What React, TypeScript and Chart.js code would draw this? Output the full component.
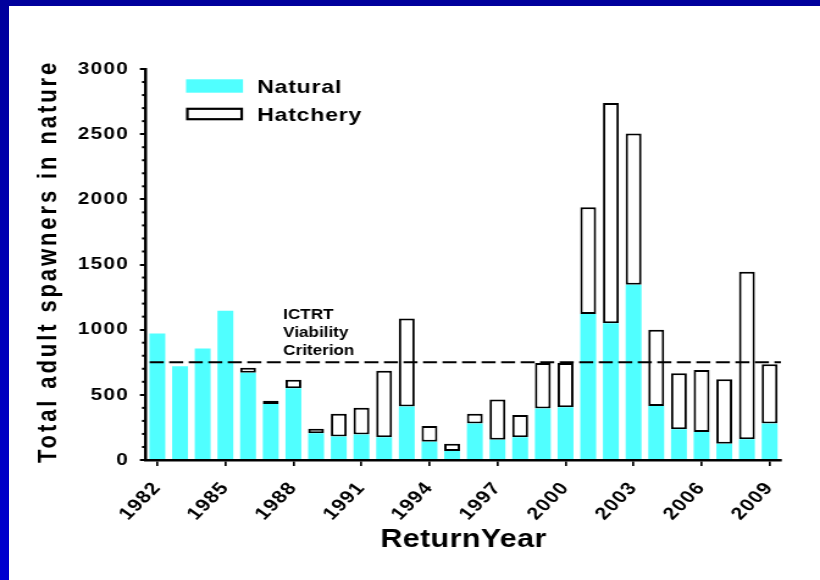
import React, { useEffect, useRef } from 'react';
import { Chart, registerables } from 'chart.js';

Chart.register(...registerables);

const YEARS = [
  '1982', '1983', '1984', '1985', '1986', '1987', '1988', '1989', '1990', '1991',
  '1992', '1993', '1994', '1995', '1996', '1997', '1998', '1999', '2000', '2001',
  '2002', '2003', '2004', '2005', '2006', '2007', '2008', '2009',
];
const NATURAL = [
  970, 720, 855, 1145, 670, 430, 550, 205, 180, 195,
  175, 410, 140, 70, 280, 155, 175, 395, 405, 1120,
  1050, 1345, 415, 235, 215, 125, 160, 280,
];
const HATCHERY = [
  null, null, null, null, 37, 25, 65, 35, 175, 205,
  510, 675, 120, 55, 75, 310, 170, 350, 340, 820,
  1690, 1160, 585, 430, 475, 495, 1285, 455,
];
const SERIES_NAMES = ['Natural', 'Hatchery'];
const Y_MIN = 0;
const Y_MAX = 3000;
const Y_MAJOR_STEP = 500;
const Y_MINOR_STEP = 100;
const X_LABEL_EVERY = 3;
const CRITERION = 750;
const CRITERION_TEXT = ['ICTRT', 'Viability', 'Criterion'];
const X_TITLE = 'ReturnYear';
const Y_TITLE = 'Total adult spawners in nature';

const FONT = '"Liberation Sans", Arial, Helvetica, sans-serif';
const NATURAL_COLOR = '#50FFFF';

const decorPlugin = {
  id: 'decor',
  beforeDraw(chart: any) {
    (chart.ctx as any).letterSpacing = '1px';
  },
  afterDatasetsDraw(chart: any) {
    const { ctx, chartArea } = chart;
    const y = chart.scales.y.getPixelForValue(CRITERION);
    ctx.save();
    ctx.strokeStyle = '#000';
    ctx.lineWidth = 2.2;
    ctx.setLineDash([11.5, 4.5]);
    ctx.beginPath();
    ctx.moveTo(chartArea.left + 3, y);
    ctx.lineTo(chartArea.right, y);
    ctx.stroke();
    ctx.restore();
  },
  afterDraw(chart: any) {
    const { ctx, chartArea } = chart;
    const ys = chart.scales.y;
    const xs = chart.scales.x;
    ctx.save();
    // minor ticks
    ctx.strokeStyle = '#000';
    ctx.lineWidth = 2;
    for (let v = Y_MIN + Y_MINOR_STEP; v < Y_MAX; v += Y_MINOR_STEP) {
      if (v % Y_MAJOR_STEP === 0) continue;
      const py = ys.getPixelForValue(v);
      ctx.beginPath();
      ctx.moveTo(chartArea.left - 3.3, py);
      ctx.lineTo(chartArea.left, py);
      ctx.stroke();
    }

    // legend
    const ds = chart.data.datasets;
    const lx = chartArea.left + 32.8;
    const lw = 46.7;
    const tx = chartArea.left + 91;
    ctx.fillStyle = ds[0].backgroundColor;
    ctx.fillRect(lx, chartArea.top + 10.3, lw, 13.4);
    ctx.fillStyle = ds[1].backgroundColor;
    ctx.fillRect(lx, chartArea.top + 38.7, lw, 12.6);
    ctx.strokeStyle = ds[1].borderColor;
    ctx.lineWidth = 2.2;
    ctx.strokeRect(lx + 1.1, chartArea.top + 38.7 + 1.1, lw - 2.2, 12.6 - 2.2);
    ctx.fillStyle = '#000';
    ctx.font = `bold 19px ${FONT}`;
    (ctx as any).letterSpacing = '0.6px';
    ctx.textAlign = 'left';
    ctx.textBaseline = 'alphabetic';
    ctx.fillText(ds[0].label, tx, chartArea.top + 24);
    ctx.fillText(ds[1].label, tx, chartArea.top + 51.5);

    // criterion label
    const cy = ys.getPixelForValue(CRITERION);
    const cx = xs.getPixelForValue(5) + 0.55 * (xs.getPixelForValue(6) - xs.getPixelForValue(5));
    ctx.font = `bold 14px ${FONT}`;
    (ctx as any).letterSpacing = '0px';
    const offs = [-43, -25.5, -7];
    CRITERION_TEXT.forEach((t, i) => ctx.fillText(t, cx, cy + offs[i]));

    // x title
    ctx.font = `bold 25px ${FONT}`;
    (ctx as any).letterSpacing = '0.3px';
    ctx.textAlign = 'center';
    ctx.fillText(X_TITLE, (chartArea.left + chartArea.right) / 2, 546.5);

    // y title
    ctx.translate(45.9, (chartArea.top + chartArea.bottom) / 2 - 3);
    ctx.rotate(-Math.PI / 2);
    ctx.font = `bold 22px ${FONT}`;
    (ctx as any).letterSpacing = '2.9px';
    ctx.textAlign = 'center';
    ctx.textBaseline = 'alphabetic';
    ctx.fillText(Y_TITLE, 0, 0);
    ctx.restore();
  },
};

export default function App() {
  const ref = useRef<HTMLCanvasElement | null>(null);

  useEffect(() => {
    if (!ref.current) return;
    const tickFont = { family: FONT, size: 17, weight: 'bold' as const };
    const chart = new Chart(ref.current, {
      type: 'bar',
      data: {
        labels: YEARS,
        datasets: [
          {
            label: SERIES_NAMES[0],
            data: NATURAL,
            backgroundColor: NATURAL_COLOR,
            borderWidth: 0,
            barPercentage: 0.7,
            categoryPercentage: 1,
            stack: 's',
          },
          {
            label: SERIES_NAMES[1],
            data: HATCHERY as any,
            backgroundColor: '#FFFFFF',
            borderColor: '#000000',
            borderWidth: 2,
            borderSkipped: false,
            barPercentage: 0.7,
            categoryPercentage: 1,
            stack: 's',
          },
        ],
      },
      options: {
        responsive: false,
        animation: false,
        devicePixelRatio: 1,
        layout: { padding: { left: 0, top: 69, right: 32, bottom: 0 } },
        plugins: {
          legend: { display: false },
          title: { display: false },
          tooltip: { enabled: false },
        },
        scales: {
          x: {
            stacked: true,
            offset: true,
            grid: {
              display: true,
              drawOnChartArea: false,
              drawTicks: true,
              tickLength: 6,
              offset: false,
              lineWidth: 1.7,
              color: (c: any) => (c.index % X_LABEL_EVERY === 0 ? '#000' : 'rgba(0,0,0,0)'),
            },
            border: { display: true, color: '#000', width: 2.5 },
            ticks: {
              autoSkip: false,
              maxRotation: 50,
              minRotation: 50,
              padding: 12,
              color: '#000',
              font: { family: FONT, size: 17.5, weight: 'bold' as const },
              callback: function (this: any, value: any, index: number) {
                return index % X_LABEL_EVERY === 0 ? this.getLabelForValue(value) : '';
              },
            },
            afterFit: (s: any) => {
              s.height = 120;
            },
          },
          y: {
            stacked: true,
            min: Y_MIN,
            max: Y_MAX,
            ticks: {
              stepSize: Y_MAJOR_STEP,
              padding: 9,
              color: '#000',
              font: tickFont,
              callback: (v: any) => String(v),
            },
            grid: { drawOnChartArea: false, drawTicks: true, tickLength: 5, lineWidth: 2, color: '#000' },
            border: { display: true, color: '#000', width: 2.5 },
            afterFit: (s: any) => {
              s.width = 119.65;
            },
          },
        },
      },
      plugins: [decorPlugin],
    });
    return () => chart.destroy();
  }, []);

  return (
    <div
      style={{
        position: 'fixed',
        left: 0,
        top: 0,
        width: 820,
        height: 580,
        background: 'linear-gradient(180deg, #00009C 0%, #0000D0 100%)',
        overflow: 'hidden',
      }}
    >
      <div style={{ position: 'absolute', left: 9, top: 6, right: 0, bottom: 0, background: '#FFFFFF' }} />
      <canvas
        ref={ref}
        width={672}
        height={580}
        style={{ position: 'absolute', left: 0, top: 0, width: '820px', height: '580px' }}
      />
    </div>
  );
}
